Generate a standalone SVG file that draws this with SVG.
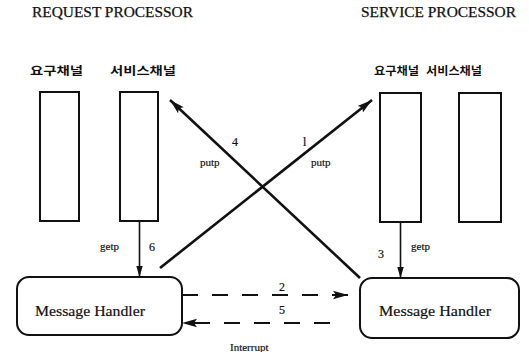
<svg xmlns="http://www.w3.org/2000/svg" width="529" height="352" viewBox="0 0 529 352">
  <style>
    .title { font-family: "Liberation Serif", "Times New Roman", serif; font-size: 14.5px; fill: #111; stroke: #111; stroke-width: 0.25; }
    .kor { font-family: "Noto Sans CJK KR", sans-serif; font-size: 11.5px; font-weight: bold; fill: #111; }
    .chan { fill: #fff; stroke: #111; stroke-width: 2; }
    .mh { fill: #fff; stroke: #111; stroke-width: 2; }
    .mhtext { font-family: "Liberation Serif", "Times New Roman", serif; font-size: 15px; fill: #111; stroke: #111; stroke-width: 0.2; }
    .lbl { font-family: "Liberation Serif", "Times New Roman", serif; font-size: 11px; fill: #111; stroke: #111; stroke-width: 0.2; }
    .num { font-family: "Liberation Serif", "Times New Roman", serif; font-size: 12px; fill: #111; stroke: #111; stroke-width: 0.2; }
    .diag { stroke: #111; stroke-width: 2.6; fill: none; }
    .vert { stroke: #111; stroke-width: 1.6; fill: none; }
    .dash { stroke: #111; stroke-width: 2; fill: none; stroke-dasharray: 16 14; }
  </style>
  <defs>
    <marker id="bigHead" markerUnits="userSpaceOnUse" markerWidth="16" markerHeight="10" refX="15" refY="5" orient="auto">
      <path d="M0,0.8 L15,5 L0,9.2 L3,5 Z" fill="#111"/>
    </marker>
    <marker id="smallHead" markerUnits="userSpaceOnUse" markerWidth="12" markerHeight="8" refX="11" refY="4" orient="auto">
      <path d="M0,0.8 L11,4 L0,7.2 Z" fill="#111"/>
    </marker>
  </defs>

  <rect width="529" height="352" fill="#fff"/>

  <!-- processor titles -->
  <text class="title" x="32" y="17" textLength="161" lengthAdjust="spacingAndGlyphs">REQUEST PROCESSOR</text>
  <text class="title" x="361" y="17" textLength="155" lengthAdjust="spacingAndGlyphs">SERVICE PROCESSOR</text>

  <!-- request processor channels -->
  <g id="req-request-channel">
    <text class="kor" x="30" y="75" textLength="53" lengthAdjust="spacingAndGlyphs">요구채널</text>
    <rect class="chan" x="40" y="92" width="39" height="129"/>
  </g>
  <g id="req-service-channel">
    <text class="kor" x="110" y="75" textLength="66" lengthAdjust="spacingAndGlyphs">서비스채널</text>
    <rect class="chan" x="120" y="92" width="38" height="129"/>
  </g>

  <!-- service processor channels -->
  <g id="svc-request-channel">
    <text class="kor" x="374" y="75" textLength="45" lengthAdjust="spacingAndGlyphs">요구채널</text>
    <rect class="chan" x="380" y="93" width="41" height="129"/>
  </g>
  <g id="svc-service-channel">
    <text class="kor" x="426" y="75" textLength="56" lengthAdjust="spacingAndGlyphs">서비스채널</text>
    <rect class="chan" x="459" y="93" width="42" height="129"/>
  </g>

  <!-- message handlers -->
  <g id="req-message-handler">
    <rect class="mh" x="17" y="277" width="165" height="58" rx="12" ry="12"/>
    <text class="mhtext" x="35" y="316" textLength="110" lengthAdjust="spacingAndGlyphs">Message Handler</text>
  </g>
  <g id="svc-message-handler">
    <rect class="mh" x="360" y="278" width="159" height="60" rx="12" ry="12"/>
    <text class="mhtext" x="379" y="316" textLength="112" lengthAdjust="spacingAndGlyphs">Message Handler</text>
  </g>

  <!-- connectors -->
  <g id="connectors">
    <!-- 1: putp into the service processor's request channel -->
    <line class="diag" x1="160" y1="268" x2="372" y2="100" marker-end="url(#bigHead)"/>
    <!-- 4: putp into the request processor's service channel -->
    <line class="diag" x1="360" y1="278" x2="170" y2="100" marker-end="url(#bigHead)"/>
    <!-- 6 / 3: getp from channels into handlers -->
    <line class="vert" x1="139.5" y1="221" x2="139.5" y2="277" marker-end="url(#smallHead)"/>
    <line class="vert" x1="400.5" y1="222" x2="400.5" y2="278" marker-end="url(#smallHead)"/>
    <!-- 2: handler to handler -->
    <line class="dash" x1="182" y1="295" x2="348" y2="295" marker-end="url(#bigHead)"/>
    <!-- 5: interrupt back -->
    <line class="dash" x1="332" y1="323" x2="182" y2="323" stroke-dashoffset="-2" marker-end="url(#bigHead)"/>
  </g>

  <!-- connector labels -->
  <text class="num" x="232" y="146">4</text>
  <text class="lbl" x="200" y="166">putp</text>
  <text class="num" x="303" y="146">l</text>
  <text class="lbl" x="311" y="166">putp</text>
  <text class="lbl" x="100" y="250">getp</text>
  <text class="num" x="149" y="251">6</text>
  <text class="num" x="378" y="258">3</text>
  <text class="lbl" x="411" y="250">getp</text>
  <text class="num" x="279" y="291">2</text>
  <text class="num" x="279" y="314">5</text>
  <text class="lbl" x="230" y="351" font-size="9.5">Interrupt</text>
</svg>
